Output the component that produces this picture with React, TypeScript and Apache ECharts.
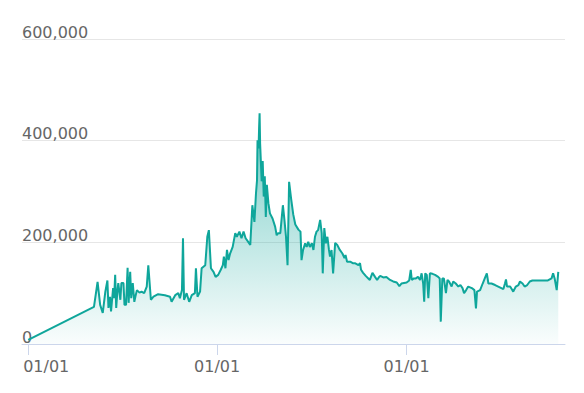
import React, { useEffect, useRef } from "react";
import * as echarts from "echarts";

const dates: string[] = [
  "2019-01-01", "2019-05-08", "2019-05-15", "2019-05-20", "2019-05-25", "2019-05-30", "2019-06-03", "2019-06-05",
  "2019-06-08", "2019-06-10", "2019-06-14", "2019-06-16", "2019-06-18", "2019-06-20", "2019-06-22", "2019-06-24",
  "2019-06-28", "2019-06-30", "2019-07-04", "2019-07-06", "2019-07-09", "2019-07-12", "2019-07-14", "2019-07-17",
  "2019-07-19", "2019-07-22", "2019-07-25", "2019-07-27", "2019-07-30", "2019-08-04", "2019-08-08", "2019-08-13",
  "2019-08-18", "2019-08-21", "2019-08-26", "2019-08-31", "2019-09-09", "2019-09-22", "2019-10-02", "2019-10-05",
  "2019-10-12", "2019-10-18", "2019-10-21", "2019-10-25", "2019-10-27", "2019-10-29", "2019-11-03", "2019-11-08",
  "2019-11-13", "2019-11-19", "2019-11-21", "2019-11-24", "2019-11-29", "2019-12-02", "2019-12-09", "2019-12-13",
  "2019-12-16", "2019-12-20", "2019-12-25", "2019-12-29", "2020-01-03", "2020-01-08", "2020-01-12", "2020-01-14",
  "2020-01-17", "2020-01-20", "2020-01-23", "2020-01-26", "2020-01-31", "2020-02-05", "2020-02-08", "2020-02-13",
  "2020-02-17", "2020-02-21", "2020-02-25", "2020-03-01", "2020-03-05", "2020-03-09", "2020-03-13", "2020-03-16",
  "2020-03-18", "2020-03-19", "2020-03-21", "2020-03-22", "2020-03-23", "2020-03-24", "2020-03-27", "2020-03-29",
  "2020-03-31", "2020-04-02", "2020-04-04", "2020-04-06", "2020-04-09", "2020-04-12", "2020-04-17", "2020-04-22",
  "2020-04-25", "2020-04-28", "2020-05-02", "2020-05-07", "2020-05-10", "2020-05-13", "2020-05-16", "2020-05-19",
  "2020-05-23", "2020-05-27", "2020-05-31", "2020-06-06", "2020-06-10", "2020-06-12", "2020-06-15", "2020-06-19",
  "2020-06-22", "2020-06-25", "2020-06-28", "2020-07-02", "2020-07-05", "2020-07-08", "2020-07-11", "2020-07-14",
  "2020-07-18", "2020-07-21", "2020-07-23", "2020-07-26", "2020-07-29", "2020-08-01", "2020-08-04", "2020-08-06",
  "2020-08-09", "2020-08-12", "2020-08-16", "2020-08-20", "2020-08-25", "2020-08-30", "2020-09-03", "2020-09-05",
  "2020-09-08", "2020-09-14", "2020-09-19", "2020-09-23", "2020-09-30", "2020-10-03", "2020-10-05", "2020-10-09",
  "2020-10-14", "2020-10-19", "2020-10-22", "2020-10-27", "2020-11-01", "2020-11-05", "2020-11-09", "2020-11-11",
  "2020-11-17", "2020-11-23", "2020-11-30", "2020-12-06", "2020-12-13", "2020-12-18", "2020-12-22", "2021-01-01",
  "2021-01-06", "2021-01-09", "2021-01-11", "2021-01-15", "2021-01-19", "2021-01-23", "2021-01-27", "2021-01-30",
  "2021-02-02", "2021-02-04", "2021-02-06", "2021-02-09", "2021-02-12", "2021-02-15", "2021-02-20", "2021-02-25",
  "2021-03-03", "2021-03-06", "2021-03-08", "2021-03-11", "2021-03-14", "2021-03-18", "2021-03-21", "2021-03-24",
  "2021-03-29", "2021-04-01", "2021-04-06", "2021-04-11", "2021-04-15", "2021-04-19", "2021-04-22", "2021-04-26",
  "2021-04-30", "2021-05-07", "2021-05-12", "2021-05-15", "2021-05-17", "2021-05-23", "2021-05-28", "2021-06-01",
  "2021-06-05", "2021-06-08", "2021-06-14", "2021-06-21", "2021-06-27", "2021-07-03", "2021-07-07", "2021-07-10",
  "2021-07-12", "2021-07-14", "2021-07-20", "2021-07-23", "2021-07-26", "2021-07-31", "2021-08-05", "2021-08-08",
  "2021-08-13", "2021-08-17", "2021-08-22", "2021-08-27", "2021-09-01", "2021-09-09", "2021-09-15", "2021-09-22",
  "2021-10-01", "2021-10-08", "2021-10-11", "2021-10-14", "2021-10-18", "2021-10-21",
];

const values: number[] = [
  8000, 73000, 122000, 77000, 61000, 103000, 125000, 71000,
  93000, 64000, 110000, 90000, 136000, 71000, 100000, 120000,
  87000, 120000, 120000, 77000, 77000, 150000, 81000, 142000,
  90000, 120000, 83000, 93000, 106000, 101000, 103000, 100000,
  113000, 155000, 87000, 93000, 98000, 96000, 93000, 83000,
  96000, 100000, 90000, 106000, 208000, 87000, 100000, 83000,
  96000, 100000, 149000, 93000, 103000, 149000, 155000, 211000,
  224000, 149000, 142000, 132000, 136000, 146000, 155000, 172000,
  149000, 185000, 165000, 178000, 191000, 218000, 211000, 221000,
  208000, 221000, 208000, 201000, 195000, 273000, 240000, 296000,
  322000, 401000, 385000, 424000, 454000, 395000, 320000, 360000,
  290000, 330000, 250000, 313000, 277000, 257000, 247000, 231000,
  214000, 218000, 218000, 273000, 244000, 211000, 155000, 319000,
  285000, 255000, 235000, 225000, 221000, 165000, 185000, 198000,
  191000, 201000, 191000, 198000, 185000, 211000, 221000, 224000,
  244000, 218000, 139000, 228000, 198000, 211000, 185000, 172000,
  185000, 139000, 199000, 195000, 185000, 178000, 169000, 175000,
  162000, 162000, 159000, 159000, 155000, 159000, 146000, 140000,
  134000, 129000, 126000, 140000, 132000, 126000, 132000, 134000,
  131000, 132000, 126000, 123000, 121000, 114000, 119000, 121000,
  125000, 146000, 126000, 129000, 129000, 132000, 126000, 139000,
  119000, 83000, 139000, 136000, 90000, 139000, 138000, 136000,
  132000, 129000, 44000, 129000, 129000, 100000, 126000, 123000,
  113000, 123000, 119000, 113000, 116000, 110000, 100000, 106000,
  113000, 110000, 106000, 70000, 103000, 106000, 119000, 129000,
  139000, 119000, 119000, 116000, 113000, 110000, 108000, 119000,
  127000, 113000, 113000, 108000, 103000, 113000, 116000, 123000,
  119000, 113000, 116000, 123000, 125000, 125000, 125000, 125000,
  125000, 129000, 139000, 129000, 106000, 142000,
];

const yTicks: number[] = [0, 200000, 400000, 600000];
const xAxisStart = "2018-12-20";
const xAxisEnd = "2021-11-03";
const firstYear = 2019;

export default function App() {
  const ref = useRef<HTMLDivElement>(null);
  useEffect(() => {
    if (!ref.current) return;
    const chart = echarts.init(ref.current, null, { renderer: "svg" });
    const font = "DejaVu Sans";
    chart.setOption({
      animation: false,
      backgroundColor: "#ffffff",
      grid: { left: 22, right: 19, top: 39, bottom: 49, containLabel: false, outerBoundsMode: "none" },
      xAxis: {
        type: "time",
        min: xAxisStart,
        max: xAxisEnd,
        minInterval: 365 * 24 * 3600 * 1000,
        splitLine: { show: false },
        axisLine: { show: true, lineStyle: { color: "#ccd6eb", width: 1 } },
        axisTick: { show: true, length: 11, lineStyle: { color: "#ccd6eb", width: 1 } },
        axisLabel: {
          color: "#666666",
          fontFamily: font,
          fontSize: 16,
          margin: 14,
          hideOverlap: false,
          formatter: (v: number) => {
            const d = new Date(v);
            if (d.getMonth() !== 0 || d.getDate() !== 1) return "";
            const s = "01/01";
            return d.getFullYear() === firstYear ? "{first|" + s + "}" : s;
          },
          rich: {
            first: { padding: [0, 0, 0, 36], color: "#666666", fontFamily: font, fontSize: 16 },
          },
        },
      },
      yAxis: {
        type: "value",
        min: yTicks[0],
        max: yTicks[yTicks.length - 1],
        interval: yTicks[1] - yTicks[0],
        axisLine: { show: false },
        axisTick: { show: false },
        splitLine: { show: true, lineStyle: { color: "#e6e6e6", width: 1 } },
        axisLabel: {
          inside: true,
          margin: 0,
          color: "#666666",
          fontFamily: font,
          fontSize: 16,
          lineHeight: 14,
          verticalAlign: "bottom",
          formatter: (v: number) => v.toLocaleString("en-US"),
        },
      },
      series: [
        {
          type: "line",
          data: dates.map((d, i) => [d, values[i]]),
          showSymbol: false,
          symbol: "none",
          lineStyle: { color: "#0fa69b", width: 2 },
          itemStyle: { color: "#0fa69b" },
          areaStyle: {
            color: new echarts.graphic.LinearGradient(0, 0, 0, 1, [
              { offset: 0, color: "rgba(15,166,155,0.95)" },
              { offset: 0.4, color: "rgba(15,166,155,0.5)" },
              { offset: 1, color: "rgba(15,166,155,0.03)" },
            ]),
          },
        },
      ],
    });
    return () => chart.dispose();
  }, []);
  return (
    <div
      ref={ref}
      style={{ position: "fixed", left: 0, top: 0, width: 584, height: 393 }}
    />
  );
}
